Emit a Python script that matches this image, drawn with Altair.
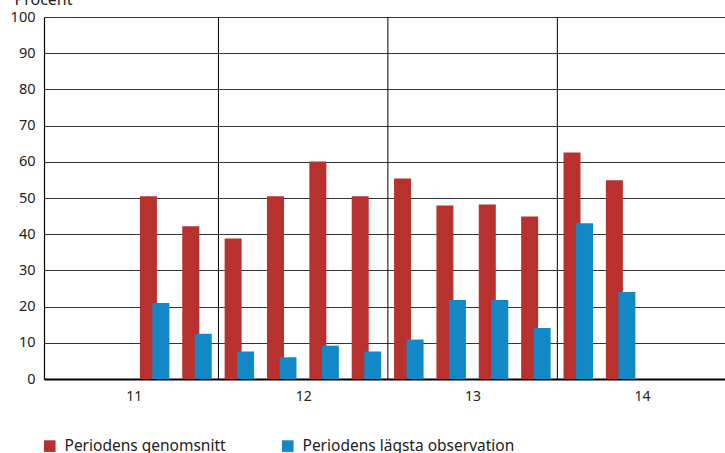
import altair as alt
import pandas as pd

# Quarterly periods 2011 K1 .. 2014 K4 (year label, quarter number)
years = ["11", "12", "13", "14"]
quarters = ["K1", "K2", "K3", "K4"]

# Percent per quarter; None where no observation exists
genomsnitt = [None, None, 50.5, 42.2, 38.8, 50.5, 60.1, 50.5,
              55.4, 47.9, 48.2, 44.9, 62.6, 54.9, None, None]
lagsta = [None, None, 21.0, 12.5, 7.6, 6.0, 9.2, 7.6,
          10.9, 21.8, 21.8, 14.1, 43.0, 24.0, None, None]

series_names = ["Periodens genomsnitt", "Periodens lägsta observation"]
series_colors = ["#B8312F", "#1388C6"]

# year boundaries on the quarter axis
year_breaks = [4, 8, 12]
year_centres = [2, 6, 10, 14]

rows = []
for i, (g, l) in enumerate(zip(genomsnitt, lagsta)):
    period = f"{years[i // 4]} {quarters[i % 4]}"
    if g is not None:
        rows.append({"period": period, "pos": i + 0.5, "series": series_names[0], "value": g})
    if l is not None:
        rows.append({"period": period, "pos": i + 0.5, "series": series_names[1], "value": l})
df = pd.DataFrame(rows)
breaks_df = pd.DataFrame({"pos": year_breaks})

FONT = "Noto Sans"
TEXT = "#222222"

x_enc = alt.X(
    "pos:Q",
    # the last quarter of 2014 runs past the right edge of the panel
    scale=alt.Scale(domain=[0, 15.84], nice=False, zero=False),
    axis=alt.Axis(
        values=year_centres,
        labelExpr="'' + (11 + (datum.value - 2) / 4)",
        grid=False, ticks=False, domainColor="black", domainWidth=2,
        labelPadding=10, labelFontSize=14, labelColor=TEXT, labelFont=FONT,
        title=None,
    ),
)
y_enc = alt.Y(
    "value:Q",
    scale=alt.Scale(domain=[0, 100], nice=False),
    axis=alt.Axis(
        values=list(range(0, 101, 10)),
        grid=True, gridColor="#333333", gridWidth=1,
        ticks=False, domainColor="black", domainWidth=1.2,
        labelPadding=9, labelFontSize=14.5, labelColor=TEXT, labelFont=FONT,
        title="Procent", titleAngle=0, titleX=-30, titleY=-13,
        titleAlign="left", titleBaseline="alphabetic",
        titleFontSize=16, titleFontWeight="normal", titleColor=TEXT, titleFont=FONT,
    ),
)
color_enc = alt.Color(
    "series:N",
    scale=alt.Scale(domain=series_names, range=series_colors),
    legend=alt.Legend(
        orient="none", legendX=-2, legendY=421, direction="horizontal",
        title=None, symbolType="square", symbolSize=135, symbolStrokeWidth=0,
        symbolOpacity=1, labelFontSize=15.5, labelFont=FONT, labelColor=TEXT,
        labelOffset=7, columnPadding=54, labelLimit=0,
    ),
)

separators = alt.Chart(breaks_df).mark_rule(color="black", strokeWidth=1).encode(x=x_enc)

red = alt.Chart(df).transform_filter(
    alt.datum.series == series_names[0]
).mark_bar(width=17, xOffset=-6.5).encode(x=x_enc, y=y_enc, color=color_enc)

blue = alt.Chart(df).transform_filter(
    alt.datum.series == series_names[1]
).mark_bar(width=17, xOffset=6).encode(x=x_enc, y=y_enc, color=color_enc)

chart = alt.layer(separators, red, blue).properties(
    width=681, height=362,
    autosize=alt.AutoSizeParams(type="none"),
    padding={"left": 44, "top": 17, "right": 0, "bottom": 74},
).configure_view(stroke=None).configure(background="white")

chart.save("out.html", embed_options={"renderer": "svg", "actions": False})
